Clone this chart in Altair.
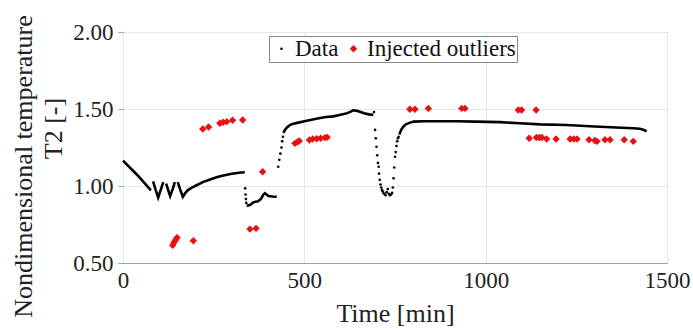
import altair as alt
import pandas as pd

# ---- data ----
# dense parts of the measured series (drawn as connected runs)
seg_t = [
    [0, 40, 77],
    [83, 90, 97, 104, 111],
    [119, 125, 130, 137, 143],
    [151, 158, 165, 172, 180, 190, 203, 220, 240, 260, 280, 300, 320, 336],
    [341, 350, 360, 372, 380, 386, 391, 396, 401, 412, 424],
    [442, 446, 452, 460, 470, 480, 500, 520, 540, 560, 580, 600, 615, 625, 635, 645, 655, 665, 678, 690],
    [762, 767, 773, 780, 790, 801, 830, 870, 920, 970, 1040, 1094, 1150, 1223, 1300, 1360, 1407, 1425, 1435, 1444],
]
seg_v = [
    [1.165, 1.07, 0.972],
    [1.03, 0.975, 0.925, 0.975, 1.025],
    [1.015, 0.97, 0.935, 0.98, 1.025],
    [1.025, 0.975, 0.93, 0.955, 0.975, 0.99, 1.005, 1.025, 1.042, 1.058, 1.07, 1.08, 1.086, 1.089],
    [0.872, 0.876, 0.895, 0.9, 0.915, 0.94, 0.953, 0.945, 0.935, 0.932, 0.93],
    [1.345, 1.362, 1.38, 1.395, 1.405, 1.41, 1.42, 1.43, 1.44, 1.448, 1.452, 1.462, 1.47, 1.48, 1.492, 1.488, 1.48, 1.472, 1.465, 1.462],
    [1.335, 1.365, 1.385, 1.4, 1.41, 1.418, 1.42, 1.42, 1.42, 1.418, 1.415, 1.407, 1.4, 1.396, 1.386, 1.38, 1.375, 1.372, 1.365, 1.355],
]

# sparse samples of the series in fast transients (drawn as dots)
dot_t = [337, 338, 339, 340, 428, 431, 434, 437, 439, 441,
         692, 695, 697, 699, 701, 703, 705, 706, 708, 710, 712, 714, 716, 718, 721,
         724, 727, 730, 733, 736, 739, 742, 744, 746, 748, 750, 752, 754, 756, 758, 760]
dot_v = [0.985, 0.945, 0.915, 0.89, 1.125, 1.17, 1.21, 1.25, 1.29, 1.32,
         1.48, 1.364, 1.31, 1.255, 1.2, 1.15, 1.125, 1.08, 1.04, 1.01, 0.99, 0.975, 0.965, 0.955, 0.948,
         0.94, 0.96, 0.98, 0.95, 0.94, 0.945, 0.955, 0.99, 1.05, 1.12, 1.19, 1.22, 1.26, 1.29, 1.31, 1.32]

# injected outliers
out_t = [137, 141, 145, 149, 194,
         220, 236, 267, 276, 286, 302, 330,
         350, 367, 385,
         474, 481, 486, 514, 523, 534, 545, 557, 563,
         791, 805, 842, 934, 943,
         1090, 1099, 1139,
         1120, 1140, 1148, 1155, 1168, 1194, 1233, 1243, 1252, 1285, 1301, 1307, 1329, 1343, 1382, 1407]
out_v = [0.615, 0.635, 0.65, 0.665, 0.645,
         1.37, 1.383, 1.407, 1.414, 1.418, 1.427, 1.429,
         0.72, 0.725, 1.093,
         1.277, 1.286, 1.292, 1.299, 1.305, 1.307, 1.31, 1.314, 1.316,
         1.498, 1.498, 1.504, 1.504, 1.504,
         1.494, 1.494, 1.494,
         1.31, 1.315, 1.315, 1.315, 1.305, 1.305, 1.305, 1.305, 1.305, 1.30, 1.295, 1.29, 1.30, 1.30, 1.30, 1.29]

series_names = ["Data", "Injected outliers"]
x_ticks = [0, 500, 1000, 1500]
y_ticks = [0.5, 0.75, 1.0, 1.25, 1.5, 1.75, 2.0]

# ---- tables ----
rows = []
for i, (ts, vs) in enumerate(zip(seg_t, seg_v)):
    for t, v in zip(ts, vs):
        rows.append({"t": t, "v": v, "seg": i})
line_df = pd.DataFrame(rows)

pts_df = pd.concat([
    pd.DataFrame({"t": dot_t, "v": dot_v, "series": series_names[0]}),
    pd.DataFrame({"t": out_t, "v": out_v, "series": series_names[1]}),
], ignore_index=True)

FONT = "Liberation Serif"

xenc = alt.X("t:Q", scale=alt.Scale(domain=[0, 1500], nice=False),
             axis=alt.Axis(values=x_ticks, title="Time [min]", format="d"))
yenc = alt.Y("v:Q", scale=alt.Scale(domain=[0.5, 2.0], nice=False),
             axis=alt.Axis(values=y_ticks, format=".2f", titleY=96, titlePadding=6,
                           title="T2 [-]"))

lines = alt.Chart(line_df).mark_line(color="black", strokeWidth=2.6).encode(
    x=xenc, y=yenc, detail="seg:N"
)

points = alt.Chart(pts_df).mark_point(filled=True, opacity=1).encode(
    x="t:Q", y="v:Q",
    color=alt.Color("series:N", scale=alt.Scale(domain=series_names, range=["black", "#e81010"]),
                    title=None),
    shape=alt.Shape("series:N", scale=alt.Scale(domain=series_names, range=["circle", "diamond"]),
                    title=None),
    size=alt.Size("series:N", scale=alt.Scale(domain=series_names, range=[7, 55]),
                  title=None),
)

chart = alt.layer(lines, points).properties(
    width=544, height=231,
    autosize=alt.AutoSizeParams(type="none"),
    padding={"left": 123, "top": 32, "right": 26, "bottom": 66},
    title=alt.TitleParams(text="Nondimensional temperature", orient="left", anchor="middle",
                          font=FONT, fontSize=26, fontWeight="normal", color="#222",
                          offset=4, dx=-19),
).configure_view(
    stroke="#c8c8c8", strokeWidth=1
).configure_axis(
    labelFont=FONT, titleFont=FONT, labelFontSize=23, titleFontSize=26,
    labelColor="#222", titleColor="#222", titleFontWeight="normal",
    gridColor="#e6e6e6", gridWidth=1,
    domainColor="#a0a0a0", tickColor="#a0a0a0",
).configure_axisX(
    ticks=False, labelPadding=6, titlePadding=8, labelFlush=False
).configure_axisY(
    tickSize=5, labelPadding=5, domain=False
).configure_legend(
    orient="none", legendX=146, legendY=4, direction="horizontal",
    labelFont=FONT, labelFontSize=23, labelColor="#111",
    strokeColor="#888", fillColor="white", padding=1,
    columnPadding=3, symbolStrokeWidth=0, labelOffset=2,
)

chart.save("out.html", embed_options={"renderer": "svg", "actions": False})
